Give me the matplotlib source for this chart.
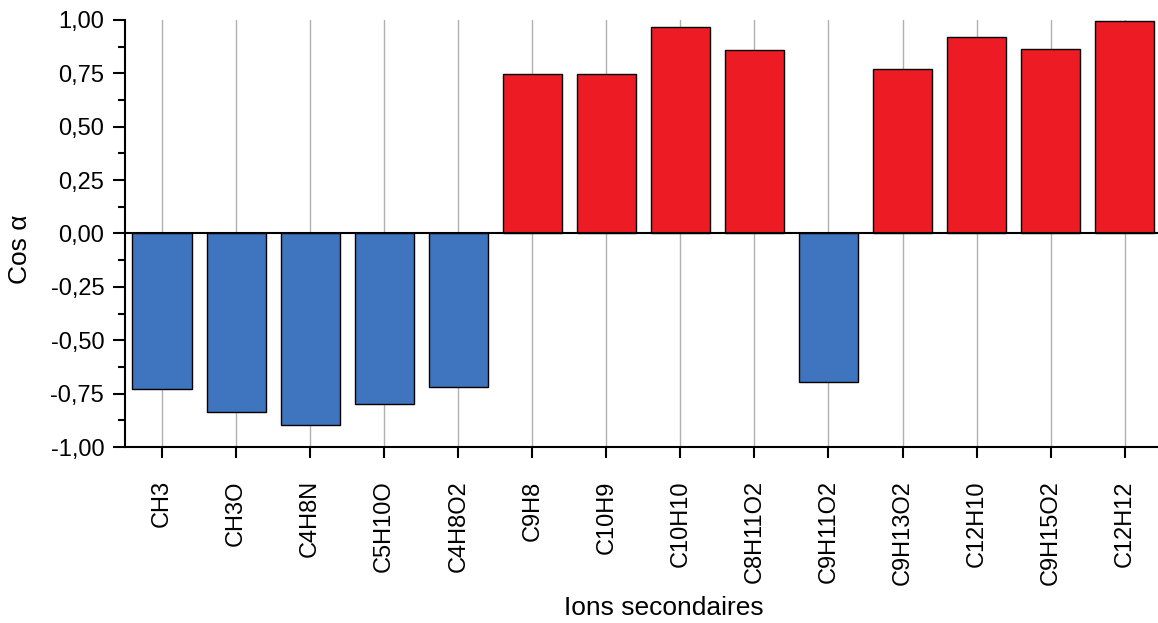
import matplotlib
matplotlib.use("Agg")
import matplotlib.pyplot as plt
from matplotlib.ticker import MultipleLocator, FuncFormatter

# data
ions = ["CH3", "CH3O", "C4H8N", "C5H10O", "C4H8O2", "C9H8", "C10H9", "C10H10",
        "C8H11O2", "C9H11O2", "C9H13O2", "C12H10", "C9H15O2", "C12H12"]
cos_alpha = [-0.73, -0.835, -0.897, -0.80, -0.72, 0.745, 0.745, 0.967,
             0.86, -0.695, 0.768, 0.922, 0.862, 0.995]

BLUE = "#3f74bf"
RED = "#ed1c24"

plt.rcParams['font.family'] = ['Liberation Sans', 'DejaVu Sans']

fig = plt.figure(figsize=(11.58, 6.23), dpi=100)
ax = fig.add_axes([0.108, 0.2825, 0.892, 0.6855])

colors = [RED if v > 0 else BLUE for v in cos_alpha]
x = list(range(len(ions)))
ax.bar(x, cos_alpha, width=0.8, color=colors, edgecolor="black", linewidth=1.0, zorder=3)
ax.axhline(0, color="black", linewidth=1.5, zorder=4)

ax.set_xlim(-0.5, 13.45)
ax.set_ylim(-1.0, 1.0)
ax.set_xticks(x)
ax.set_xticklabels(ions, rotation=90, fontsize=17)
ax.grid(axis="x", color="#b0b0b0", linewidth=1.0, zorder=0)

ax.yaxis.set_major_locator(MultipleLocator(0.25))
ax.yaxis.set_minor_locator(MultipleLocator(0.125))
ax.yaxis.set_major_formatter(FuncFormatter(lambda v, p: f"{v:.2f}".replace(".", ",")))
ax.tick_params(axis="y", labelsize=17, direction="out", length=9, width=1.5, pad=6)
ax.tick_params(axis="y", which="minor", direction="out", length=5, width=1.5)
ax.tick_params(axis="x", direction="out", length=8, width=1.5, pad=16)

for s in ["top", "right"]:
    ax.spines[s].set_visible(False)
for s in ["left", "bottom"]:
    ax.spines[s].set_linewidth(1.5)

ax.set_ylabel("Cos α", fontsize=19)
ax.yaxis.set_label_coords(-0.09, 0.464)
ax.set_xlabel("Ions secondaires", fontsize=19)
ax.xaxis.set_label_coords(0.522, -0.35)

fig.savefig("out.png", dpi=100)
